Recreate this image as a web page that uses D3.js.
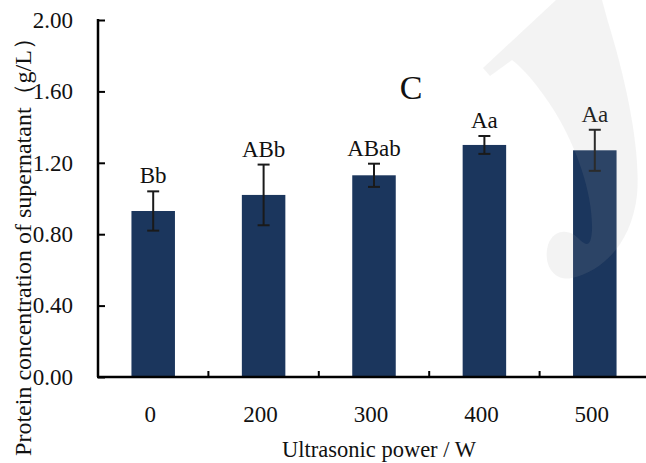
<!DOCTYPE html>
<html>
<head>
<meta charset="utf-8">
<script src="https://cdn.jsdelivr.net/npm/d3@7"></script>
<style>
	body { margin: 0; background: #fff; }
	text { font-family: "Liberation Serif", "Times New Roman", serif; fill: #111; }
</style>
</head>
<body>
<svg id="viz"></svg>
<script>

// values
var powers = ['0', '200', '300', '400', '500']
var protein = [0.93, 1.02, 1.13, 1.30, 1.27]
var errors = [0.11, 0.17, 0.065, 0.05, 0.115]
var letters = ['Bb', 'ABb', 'ABab', 'Aa', 'Aa']
var yTicks = [0, 0.4, 0.8, 1.2, 1.6, 2.0]

var width = 646
var height = 463

var svg = d3.select("#viz")
	.attr("width", width)
	.attr("height", height)

var padL = 98, padT = 20, padB = 377

var x = d3.scaleBand().domain(powers).range([padL, padL + 5 * 110.4]).paddingInner(0.606).paddingOuter(0.303)
var y = d3.scaleLinear().domain([0, 2]).range([padB, padT])

// bars
svg.selectAll("rect.bar")
	.data(protein)
	.enter()
	.append("rect")
	.attr("class", "bar")
	.attr("x", (d, i) => x(powers[i]))
	.attr("width", x.bandwidth())
	.attr("y", d => y(d))
	.attr("height", d => padB - y(d))
	.style("fill", "#1b365d")

// error bars
var eb = svg.selectAll("g.err")
	.data(protein)
	.enter()
	.append("g")
	.attr("class", "err")
	.attr("transform", (d, i) => "translate(" + (x(powers[i]) + x.bandwidth() / 2) + ",0)")

eb.append("line")
	.attr("y1", (d, i) => y(d + errors[i]))
	.attr("y2", (d, i) => y(d - errors[i]))
	.attr("stroke", "#1a1a1a").attr("stroke-width", 2)
eb.append("line")
	.attr("x1", -6).attr("x2", 6)
	.attr("y1", (d, i) => y(d + errors[i])).attr("y2", (d, i) => y(d + errors[i]))
	.attr("stroke", "#1a1a1a").attr("stroke-width", 2)
eb.append("line")
	.attr("x1", -6).attr("x2", 6)
	.attr("y1", (d, i) => y(d - errors[i])).attr("y2", (d, i) => y(d - errors[i]))
	.attr("stroke", "#1a1a1a").attr("stroke-width", 2)

// significance letters
eb.append("text")
	.attr("y", (d, i) => y(d + errors[i]) - 8)
	.attr("text-anchor", "middle")
	.style("font-size", "23px")
	.text((d, i) => letters[i])

// y axis
var yAxis = d3.axisRight(y).tickValues(yTicks).tickSize(7).tickFormat("")
var yg = svg.append("g").attr("transform", "translate(" + padL + ",0)").call(yAxis)
yg.select(".domain").remove()
yg.selectAll(".tick line").attr("stroke", "#000").attr("stroke-width", 2)
svg.append("line")
	.attr("x1", padL).attr("x2", padL)
	.attr("y1", padT - 1).attr("y2", padB)
	.attr("stroke", "#000").attr("stroke-width", 2.5)

svg.selectAll("text.ylab")
	.data(yTicks)
	.enter()
	.append("text")
	.attr("class", "ylab")
	.attr("x", 73)
	.attr("y", d => y(d))
	.attr("dy", "0.34em")
	.attr("text-anchor", "end")
	.style("font-size", "23px")
	.text(d => d3.format(".2f")(d))

// x axis, ticks sit between the bars and point up
var bounds = powers.slice(1).map(p => x(p) - x.step() * x.paddingInner() / 2)
svg.selectAll("line.xtick")
	.data(bounds)
	.enter()
	.append("line")
	.attr("x1", d => d).attr("x2", d => d)
	.attr("y1", padB).attr("y2", padB - 6)
	.attr("stroke", "#000").attr("stroke-width", 2)
svg.append("line")
	.attr("x1", padL - 1).attr("x2", width)
	.attr("y1", padB).attr("y2", padB)
	.attr("stroke", "#000").attr("stroke-width", 2.5)

svg.selectAll("text.xlab")
	.data(powers)
	.enter()
	.append("text")
	.attr("class", "xlab")
	.attr("x", d => x(d) + x.bandwidth() / 2 - 3)
	.attr("y", 422)
	.attr("text-anchor", "middle")
	.style("font-size", "23px")
	.text(d => d)

// axis titles
svg.append("text")
	.attr("x", 379)
	.attr("y", 457)
	.attr("text-anchor", "middle")
	.style("font-size", "22.5px")
	.text("Ultrasonic power / W")

svg.append("text")
	.attr("transform", "translate(31,241) rotate(-90)")
	.attr("text-anchor", "middle")
	.style("font-size", "24px")
	.text("Protein concentration of supernatant（g/L）")

// panel letter
svg.append("text")
	.attr("x", 411)
	.attr("y", 99)
	.attr("text-anchor", "middle")
	.style("font-size", "34px")
	.text("C")

// faint watermark in the corner
svg.append("path")
	.attr("d", "M483,68 L556,0 L602,0 L608,22 C626,80 641,150 637,195 C632,240 606,270 572,278 C552,282 543,262 548,245 C553,230 568,228 578,238 C586,246 591,248 592,230 C593,195 578,150 555,112 C540,88 525,70 512,60 L490,76 Z")
	.style("fill", "#a0a0a0")
	.style("opacity", 0.13)

</script>
</body>
</html>
